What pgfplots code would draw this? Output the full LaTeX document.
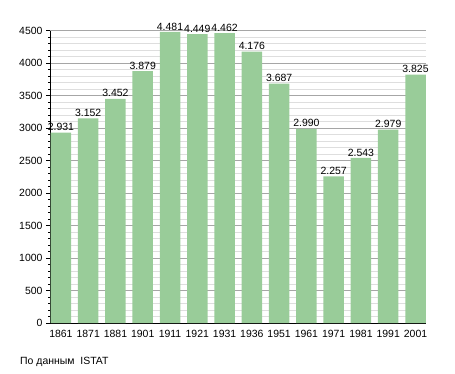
\documentclass[border=0pt]{standalone}
\usepackage{fontspec}
\setmainfont{Liberation Sans}
\usepackage{pgfplots}
\pgfplotsset{compat=1.18}
\definecolor{bargreen}{RGB}{153,204,153}
\begin{document}
\begin{tikzpicture}[x=1bp,y=1bp]
\useasboundingbox (0,0) rectangle (455,373);
\begin{axis}[
  at={(50bp,50bp)}, anchor=south west,
  scale only axis, width=376bp, height=292.3bp,
  xmin=-0.4, xmax=13.385, ymin=0, ymax=4500,
  axis x line=bottom, axis y line=left, axis line style={-, black, line width=0.8pt},
  xtick=data, xticklabels={1861,1871,1881,1901,1911,1921,1931,1936,1951,1961,1971,1981,1991,2001},
  x tick style={draw=none},
  ytick={0,500,...,4500}, minor y tick num=4,
  y tick style={black, line width=0.5pt},
  major tick length=4bp, minor tick length=2bp,
  tick align=outside,
  ymajorgrids, yminorgrids,
  major grid style={color=black!35, line width=0.5pt},
  minor grid style={color=black!13, line width=0.5pt},
  tick label style={font=\fontsize{10.5}{12}\selectfont},
  /pgf/number format/assume math mode=true,
  scaled y ticks=false,
  yticklabel style={/pgf/number format/1000 sep={}},
  ybar, bar width=20.5bp, bar shift=0pt,
  nodes near coords={\pgfmathprintnumber[1000 sep={.}]{\pgfplotspointmeta}},
  nodes near coords style={font=\fontsize{10.5}{12}\selectfont, /pgf/number format/assume math mode=true, inner sep=1.5pt},
  clip=false,
]
\addplot[fill=bargreen, draw=none] coordinates {
(0,2931) (1,3152) (2,3452) (3,3879) (4,4481) (5,4449) (6,4462) (7,4176) (8,3687) (9,2990) (10,2257) (11,2543) (12,2979) (13,3825)
};
\end{axis}
\node[anchor=base west, font=\fontsize{10.5}{12}\selectfont, inner sep=0] at (20bp,9bp) {По данным\ \ ISTAT};
\end{tikzpicture}
\end{document}
